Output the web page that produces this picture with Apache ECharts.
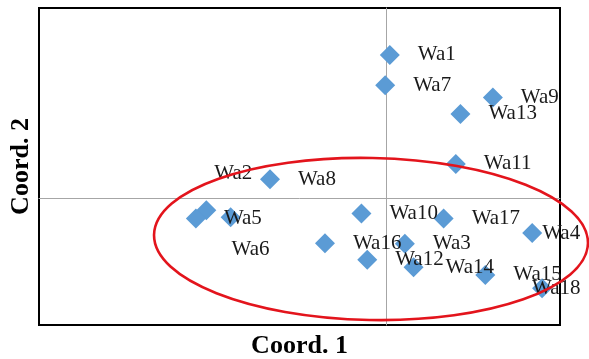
<!DOCTYPE html>
<html>
<head>
<meta charset="utf-8">
<script src="https://cdn.jsdelivr.net/npm/echarts@6/dist/echarts.min.js"></script>
<style>
html,body{margin:0;padding:0;background:#fff;}
#chart{width:589px;height:359px;}
</style>
</head>
<body>
<div id="chart"></div>
<script>
const names = ['Wa1','Wa2','Wa3','Wa4','Wa5','Wa6','Wa7','Wa8','Wa9','Wa10','Wa11','Wa12','Wa13','Wa14','Wa15','Wa16','Wa17','Wa18'];
const coord1 = [0.006,-0.311,0.032,0.252,-0.329,-0.269,-0.002,-0.201,0.184,-0.043,0.120,-0.033,0.128,0.047,0.171,-0.106,0.099,0.269];
const coord2 = [0.226,-0.019,-0.072,-0.055,-0.032,-0.030,0.178,0.030,0.159,-0.024,0.054,-0.097,0.133,-0.109,-0.121,-0.071,-0.032,-0.142];
const xRange = [-0.6, 0.3];
const yRange = [-0.2, 0.3];

// manual label displacements (pixels), as placed in the original figure
const labelShift = { 'Wa2': [-20, -37], 'Wa6': [-27, 32], 'Wa4': [-18, 0], 'Wa18': [-38, 0], 'Wa14': [4, 0] };

const FONT = 'Liberation Serif, Times New Roman, serif';

const data = names.map((n, i) => ({ name: n, value: [coord1[i], coord2[i]] }));

const chart = echarts.init(document.getElementById('chart'), null, { renderer: 'canvas' });
chart.setOption({
  animation: false,
  backgroundColor: '#ffffff',
  grid: { left: 39, right: 29, top: 8, bottom: 34, show: true, borderColor: '#000', borderWidth: 2,
    backgroundColor: 'transparent', containLabel: false, outerBoundsMode: 'none' },
  xAxis: [
    { type: 'value', min: xRange[0], max: xRange[1],
      axisLine: { show: true, onZero: true, lineStyle: { color: '#a6a6a6', width: 1 } },
      axisTick: { show: false }, axisLabel: { show: false }, splitLine: { show: false } },
    { type: 'value', min: xRange[0], max: xRange[1], position: 'bottom',
      axisLine: { show: false, onZero: false }, axisTick: { show: false }, axisLabel: { show: false }, splitLine: { show: false },
      name: 'Coord. 1', nameLocation: 'middle', nameGap: 8,
      nameTextStyle: { fontFamily: FONT, fontWeight: 'bold', fontSize: 26, color: '#000', verticalAlign: 'top' } }
  ],
  yAxis: [
    { type: 'value', min: yRange[0], max: yRange[1],
      axisLine: { show: true, onZero: true, lineStyle: { color: '#a6a6a6', width: 1 } },
      axisTick: { show: false }, axisLabel: { show: false }, splitLine: { show: false } },
    { type: 'value', min: yRange[0], max: yRange[1], position: 'left',
      axisLine: { show: false, onZero: false }, axisTick: { show: false }, axisLabel: { show: false }, splitLine: { show: false },
      name: 'Coord. 2', nameLocation: 'middle', nameGap: 5,
      nameTextStyle: { fontFamily: FONT, fontWeight: 'bold', fontSize: 26, color: '#000' } }
  ],
  series: [{
    type: 'scatter',
    xAxisIndex: 0, yAxisIndex: 0,
    symbol: 'diamond',
    symbolSize: 20,
    itemStyle: { color: '#5b9bd5', opacity: 1 },
    label: { show: true, position: 'right', distance: 18, formatter: '{b}',
      fontFamily: FONT, fontSize: 21, color: '#1a1a1a' },
    labelLayout: function (params) {
      const s = labelShift[names[params.dataIndex]];
      return s ? { dx: s[0], dy: s[1], hideOverlap: false } : { hideOverlap: false };
    },
    data: data,
    z: 3
  }],
  graphic: [{
    type: 'ellipse',
    x: 371, y: 239,
    rotation: -0.02,
    shape: { cx: 0, cy: 0, rx: 217, ry: 81 },
    style: { fill: 'none', stroke: '#e3141c', lineWidth: 2.6 },
    z: 10, silent: true
  }]
});
</script>
</body>
</html>
